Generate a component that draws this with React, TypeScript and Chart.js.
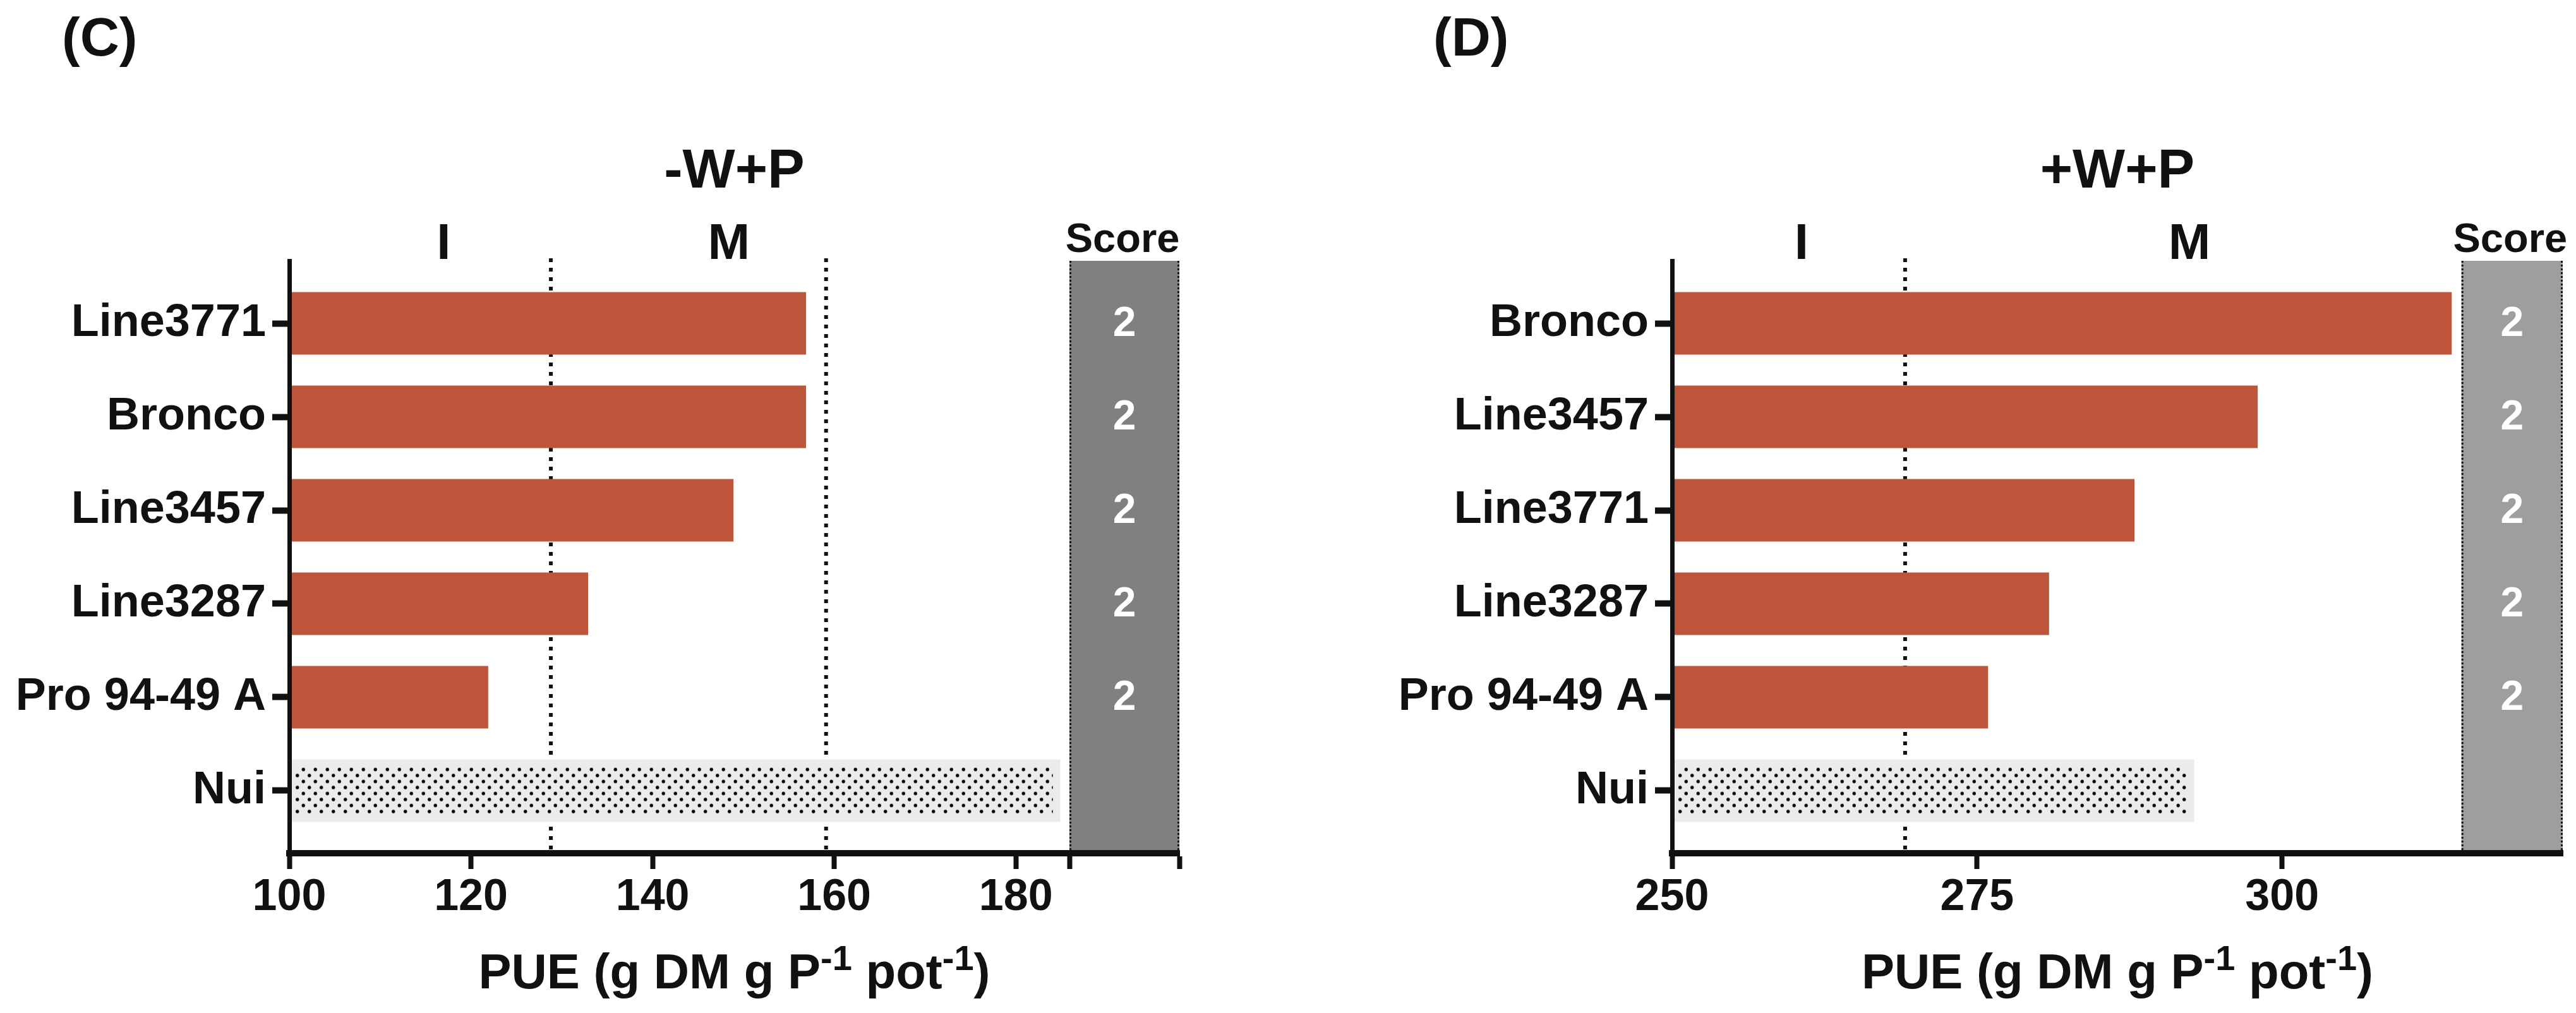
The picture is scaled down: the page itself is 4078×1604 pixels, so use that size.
import React, { useEffect, useRef } from 'react';
import { Chart, registerables } from 'chart.js';

Chart.register(...registerables);

const FONT = '"Liberation Sans", Arial, Helvetica, sans-serif';
const INK = '#111111';
const BAR = '#BC5539';
const NUI_FILL = '#EBEBEB';

// ---- Panel C (-W+P) ----
const categoriesC = ['Line3771', 'Bronco', 'Line3457', 'Line3287', 'Pro 94-49 A', 'Nui'];
const pueC = [156.9, 156.9, 148.9, 132.9, 121.9, 184.9];
const scoresC = ['2', '2', '2', '2', '2', ''];
const thresholdsC = [128.8, 159.1];
const tickValuesC = [100, 120, 140, 160, 180];
const scoreBandC = [185.9, 198.0];
const axisRangeC = [100, 198.0];
const zoneLabelsC = ['I', 'M'];
const zoneLabelValuesC = [117.0, 148.4];

// ---- Panel D (+W+P) ----
const categoriesD = ['Bronco', 'Line3457', 'Line3771', 'Line3287', 'Pro 94-49 A', 'Nui'];
const pueD = [313.9, 298.0, 287.9, 280.9, 275.9, 292.8];
const scoresD = ['2', '2', '2', '2', '2', ''];
const thresholdsD = [269.1];
const tickValuesD = [250, 275, 300];
const scoreBandD = [314.7, 323.0];
const axisRangeD = [250, 323.0];
const zoneLabelsD = ['I', 'M'];
const zoneLabelValuesD = [260.6, 292.4];

const W = 2039;
const H = 1604;
const PLOT_TOP = 413;
const PLOT_BOTTOM = 1351;

type Panel = {
  letter: string;
  title: string;
  categories: string[];
  values: number[];
  scores: string[];
  thresholds: number[];
  tickValues: number[];
  bandTicks: boolean;
  scoreBand: number[];
  range: number[];
  zoneLabels: string[];
  zoneValues: number[];
  bandColor: string;
  axisLeft: number;
  axisRight: number;
  letterX: number;
};

const panelC: Panel = {
  letter: '(C)',
  title: '-W+P',
  categories: categoriesC,
  values: pueC,
  scores: scoresC,
  thresholds: thresholdsC,
  tickValues: tickValuesC,
  bandTicks: true,
  scoreBand: scoreBandC,
  range: axisRangeC,
  zoneLabels: zoneLabelsC,
  zoneValues: zoneLabelValuesC,
  bandColor: '#808080',
  axisLeft: 458,
  axisRight: 1867,
  letterX: 98,
};

const panelD: Panel = {
  letter: '(D)',
  title: '+W+P',
  categories: categoriesD,
  values: pueD,
  scores: scoresD,
  thresholds: thresholdsD,
  tickValues: tickValuesD,
  bandTicks: false,
  scoreBand: scoreBandD,
  range: axisRangeD,
  zoneLabels: zoneLabelsD,
  zoneValues: zoneLabelValuesD,
  bandColor: '#9E9E9E',
  axisLeft: 608,
  axisRight: 2018,
  letterX: 230,
};

function bold(size: number) {
  return `bold ${size}px ${FONT}`;
}

function drawText(
  ctx: CanvasRenderingContext2D,
  s: string,
  x: number,
  y: number,
  size: number,
  color = INK,
  align: CanvasTextAlign = 'center',
  baseline: CanvasTextBaseline = 'alphabetic'
) {
  ctx.font = bold(size);
  ctx.fillStyle = color;
  ctx.textAlign = align;
  ctx.textBaseline = baseline;
  ctx.fillText(s, x, y);
}

function makeDotTile(): HTMLCanvasElement {
  const c = document.createElement('canvas');
  c.width = 19;
  c.height = 19;
  const g = c.getContext('2d')!;
  g.fillStyle = '#000000';
  const dot = (x: number, y: number) => {
    g.beginPath();
    g.arc(x, y, 2.7, 0, Math.PI * 2);
    g.fill();
  };
  dot(14.25, 4.75);
  dot(4.75, 14.25);
  return c;
}

function buildChart(canvas: HTMLCanvasElement, p: Panel) {
  const n = p.categories.length;
  const nuiIndex = p.categories.indexOf('Nui');
  const tickList = p.bandTicks ? [...p.tickValues, ...p.scoreBand] : [...p.tickValues];
  const tile = makeDotTile();

  const decor = {
    id: 'decor',
    beforeDatasetsDraw(chart: any) {
      const { ctx, chartArea: a } = chart;
      const x = chart.scales.x;
      ctx.save();
      const bx1 = x.getPixelForValue(p.scoreBand[0]);
      const bx2 = x.getPixelForValue(p.scoreBand[1]);
      ctx.fillStyle = p.bandColor;
      ctx.fillRect(bx1, a.top, bx2 - bx1, a.bottom - a.top);
      ctx.strokeStyle = INK;
      ctx.lineWidth = 3;
      ctx.setLineDash([3, 3]);
      for (const bx of [bx1 + 1.5, bx2 - 1.5]) {
        ctx.beginPath();
        ctx.moveTo(bx, a.top);
        ctx.lineTo(bx, a.bottom);
        ctx.stroke();
      }
      ctx.lineWidth = 6;
      ctx.setLineDash([6, 9]);
      for (const t of p.thresholds) {
        const tx = x.getPixelForValue(t);
        ctx.beginPath();
        ctx.moveTo(tx, a.top - 4);
        ctx.lineTo(tx, a.bottom);
        ctx.stroke();
      }
      ctx.restore();
    },
    afterDatasetsDraw(chart: any) {
      const { ctx } = chart;
      const x = chart.scales.x;
      const y = chart.scales.y;
      ctx.save();
      // dotted pattern inside the Nui bar
      const meta = chart.getDatasetMeta(0);
      const el = meta.data[nuiIndex];
      if (el) {
        const pr = el.getProps(['x', 'y', 'height'], true);
        const top = pr.y - pr.height / 2;
        const left = x.getPixelForValue(p.range[0]) + 8;
        const right = pr.x - 12;
        const rTop = top + 11.25;
        const rBottom = top + 87;
        const pat = ctx.createPattern(tile, 'repeat');
        if (pat) {
          pat.setTransform(new DOMMatrix().translate(left, rTop));
          ctx.fillStyle = pat;
          ctx.fillRect(left, rTop, right - left, rBottom - rTop);
        }
      }
      // score digits
      const cx = (x.getPixelForValue(p.scoreBand[0]) + x.getPixelForValue(p.scoreBand[1])) / 2;
      p.scores.forEach((s, i) => {
        if (!s) return;
        drawText(ctx, s, cx, y.getPixelForValue(i) + 2, 66, '#FFFFFF', 'center', 'middle');
      });
      ctx.restore();
    },
    afterDraw(chart: any) {
      const { ctx, chartArea: a } = chart;
      const x = chart.scales.x;
      ctx.save();
      const mid = (a.left + a.right) / 2;
      drawText(ctx, p.letter, p.letterX, 88, 86, INK, 'left');
      drawText(ctx, p.title, mid, 297, 88);
      p.zoneLabels.forEach((lab, i) => {
        drawText(ctx, lab, x.getPixelForValue(p.zoneValues[i]), 410, 80);
      });
      const cx = (x.getPixelForValue(p.scoreBand[0]) + x.getPixelForValue(p.scoreBand[1])) / 2;
      drawText(ctx, 'Score', cx - 3, 399, 65);

      // axis title with superscripts
      const parts: [string, boolean][] = [
        ['PUE (g DM g P', false],
        ['-1', true],
        [' pot', false],
        ['-1', true],
        [')', false],
      ];
      const mainSize = 78;
      const supSize = 56;
      let total = 0;
      for (const [t, sup] of parts) {
        ctx.font = bold(sup ? supSize : mainSize);
        total += ctx.measureText(t).width;
      }
      let px = mid - total / 2;
      const base = 1565;
      for (const [t, sup] of parts) {
        ctx.font = bold(sup ? supSize : mainSize);
        ctx.fillStyle = INK;
        ctx.textAlign = 'left';
        ctx.textBaseline = 'alphabetic';
        ctx.fillText(t, px, sup ? base - 29 : base);
        px += ctx.measureText(t).width;
      }
      ctx.restore();
    },
  };

  return new Chart(canvas, {
    type: 'bar',
    data: {
      datasets: [
        {
          data: p.values.map((v, i) => ({ x: v, y: i })),
          backgroundColor: p.values.map((_, i) => (i === nuiIndex ? NUI_FILL : BAR)),
          borderWidth: 0,
          barPercentage: 0.67,
          categoryPercentage: 1,
        },
      ],
    },
    options: {
      indexAxis: 'y',
      animation: false,
      responsive: false,
      devicePixelRatio: 1,
      layout: { padding: { top: PLOT_TOP, right: W - p.axisRight, left: 0, bottom: 0 } },
      plugins: {
        legend: { display: false },
        tooltip: { enabled: false },
        title: { display: false },
      },
      scales: {
        x: {
          type: 'linear',
          position: 'bottom',
          offset: false,
          min: p.range[0],
          max: p.range[1],
          afterBuildTicks: (s: any) => {
            s.ticks = tickList.map((v) => ({ value: v }));
          },
          afterFit: (s: any) => {
            s.height = H - PLOT_BOTTOM;
          },
          ticks: {
            autoSkip: false,
            maxRotation: 0,
            minRotation: 0,
            padding: 4,
            color: INK,
            font: { family: FONT, size: 70, weight: 'bold' },
            callback: (v: any) => (p.tickValues.includes(Number(v)) ? String(v) : ''),
          },
          grid: {
            display: true,
            offset: false,
            drawOnChartArea: false,
            drawTicks: true,
            tickLength: 25,
            tickWidth: 8,
            tickColor: INK,
            color: INK,
            z: 1,
          },
          border: { display: true, width: 10, color: INK, z: 1 },
        },
        y: {
          type: 'linear',
          position: 'left',
          reverse: true,
          offset: false,
          min: -0.669,
          max: n - 1 + 0.669,
          afterBuildTicks: (s: any) => {
            s.ticks = p.categories.map((_, i) => ({ value: i }));
          },
          afterFit: (s: any) => {
            s.width = p.axisLeft;
          },
          ticks: {
            autoSkip: false,
            padding: 10,
            color: INK,
            font: { family: FONT, size: 72, weight: 'bold' },
            callback: (v: any) => p.categories[Number(v)] ?? '',
          },
          grid: {
            display: true,
            offset: false,
            drawOnChartArea: false,
            drawTicks: true,
            tickLength: 27,
            tickWidth: 10,
            tickColor: INK,
            color: INK,
            z: 1,
          },
          border: { display: true, width: 7, color: INK, z: 1 },
        },
      },
    } as any,
    plugins: [decor],
  });
}

export default function App() {
  const refC = useRef<HTMLCanvasElement>(null);
  const refD = useRef<HTMLCanvasElement>(null);

  useEffect(() => {
    document.body.style.margin = '0';
    const a = buildChart(refC.current!, panelC);
    const b = buildChart(refD.current!, panelD);
    return () => {
      a.destroy();
      b.destroy();
    };
  }, []);

  return (
    <div
      style={{
        position: 'absolute',
        left: 0,
        top: 0,
        width: 4078,
        height: 1604,
        background: '#ffffff',
        overflow: 'hidden',
      }}
    >
      <canvas
        ref={refC}
        width={W}
        height={H}
        style={{ position: 'absolute', left: 0, top: 0, width: W, height: H }}
      />
      <canvas
        ref={refD}
        width={W}
        height={H}
        style={{ position: 'absolute', left: W, top: 0, width: W, height: H }}
      />
    </div>
  );
}
